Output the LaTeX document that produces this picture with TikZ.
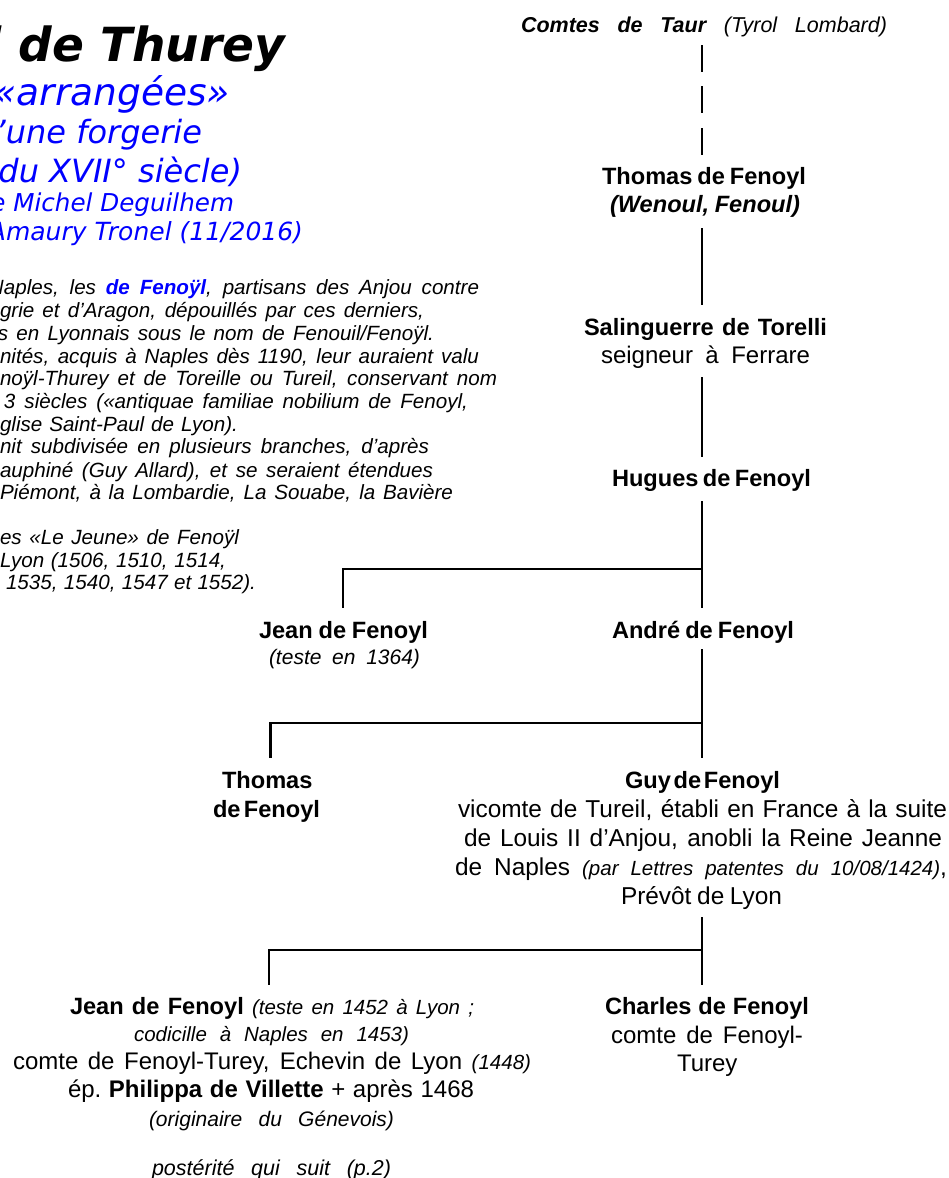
\documentclass[tikz,border=0pt]{standalone}
\usepackage{fontspec}
\setmainfont{Liberation Sans}
\newfontfamily\vdfont{DejaVu Sans}
\definecolor{pureblue}{RGB}{0,0,255}
\hbadness=10000 \hfuzz=1000pt
\tikzset{
  linetext/.style={anchor=base west,inner sep=0pt,outer sep=0pt,text=black},
  titletext/.style={anchor=base east,inner sep=0pt,outer sep=0pt},
  kin/.style={draw=black,line width=2.5pt,line cap=butt,line join=miter},
}
% name, x0, x1, baseline y, font size, text
\newcommand{\ligne}[6]{%
  \node[linetext] (#1) at (#2,#4) {\fontsize{#5}{#5}\selectfont\spaceskip=0.27em plus 1fil minus 1fil\xspaceskip=\spaceskip\hbox to \dimexpr#3pt-(#2pt)\relax{#6}};}
\newcommand{\bl}[1]{\textcolor{pureblue}{\bfseries #1}}
\begin{document}
\begin{tikzpicture}[x=1pt,y=-1pt]
\useasboundingbox (0,0) rectangle (949,1178);
\clip (0,0) rectangle (949,1178);
\fill[white] (0,0) rectangle (949,1178);

% Title block
\node[titletext] (t1) at (285,61) {\vdfont\bfseries\itshape\fontsize{47}{47}\selectfont l de Thurey};
\node[titletext,text=pureblue] (t2) at (230,105) {\vdfont\itshape\fontsize{37.5}{37.5}\selectfont «arrangées»};
\node[titletext,text=pureblue] (t3) at (202,143) {\vdfont\itshape\fontsize{32}{32}\selectfont d’une forgerie};
\node[titletext,text=pureblue] (t4) at (242,182) {\vdfont\itshape\fontsize{32}{32}\selectfont du XVII° siècle)};
\node[titletext,text=pureblue] (t5) at (234,211) {\vdfont\itshape\fontsize{24.6}{24.6}\selectfont de Michel Deguilhem};
\node[titletext,text=pureblue] (t6) at (303,240) {\vdfont\itshape\fontsize{25}{25}\selectfont Amaury Tronel (11/2016)};

% Paragraph
\ligne{p1}{-11}{479}{294}{20.6}{\itshape Naples, les \bl{de Fenoÿl}, partisans des Anjou contre}
\ligne{p2}{0}{424}{317}{20.6}{\itshape grie et d’Aragon, dépouillés par ces derniers,}
\ligne{p3}{-2}{434}{340}{20.6}{\itshape s en Lyonnais sous le nom de Fenouil/Fenoÿl.}
\ligne{p4}{0}{479}{363}{20.6}{\itshape nités, acquis à Naples dès 1190, leur auraient valu}
\ligne{p5}{0}{497}{385}{20.6}{\itshape noÿl-Thurey et de Toreille ou Tureil, conservant nom}
\ligne{p6}{4}{468}{408}{20.6}{\itshape 3 siècles («antiquae familiae nobilium de Fenoyl,}
\ligne{p7}{0}{238}{431}{20.6}{\itshape glise Saint-Paul de Lyon).}
\ligne{p8}{0}{429}{453}{20.6}{\itshape nit subdivisée en plusieurs branches, d’après}
\ligne{p9}{0}{433}{477}{20.6}{\itshape auphiné (Guy Allard), et se seraient étendues}
\ligne{p10}{0}{453}{499}{20.6}{\itshape Piémont, à la Lombardie, La Souabe, la Bavière}
\ligne{p11}{0}{239}{544}{20.6}{\itshape es «Le Jeune» de Fenoÿl}
\ligne{p12}{0}{226}{567}{20.6}{\itshape Lyon (1506, 1510, 1514,}
\ligne{p13}{6}{256}{589}{20.6}{\itshape 1535, 1540, 1547 et 1552).}

% Right column
\ligne{comtes}{521}{887}{32}{21.5}{{\bfseries\itshape Comtes de Taur} {\itshape (Tyrol Lombard)}}
\ligne{thomas}{602}{806}{184}{23.6}{\bfseries Thomas de Fenoyl}
\ligne{wenoul}{610}{800}{212}{23.6}{\bfseries\itshape (Wenoul, Fenoul)}
\ligne{sali}{584}{827}{335}{23.6}{\bfseries Salinguerre de Torelli}
\ligne{seign}{601}{810}{363}{24}{seigneur à Ferrare}
\ligne{hugues}{612}{811}{486}{23.6}{\bfseries Hugues de Fenoyl}
\ligne{jean}{259}{428}{638}{23.6}{\bfseries Jean de Fenoyl}
\ligne{teste}{269}{420}{664}{21}{\itshape (teste en 1364)}
\ligne{andre}{612}{794}{638}{23.6}{\bfseries André de Fenoyl}
\ligne{thomasb}{222}{312}{788}{23.6}{\bfseries Thomas}
\ligne{thomasc}{213}{320}{817}{23.6}{\bfseries de Fenoyl}
\ligne{guy}{625}{780}{788}{23.6}{\bfseries Guy de Fenoyl}
\ligne{guya}{458}{947}{817}{24.4}{vicomte de Tureil, établi en France à la suite}
\ligne{guyb}{464}{942}{846}{24.4}{de Louis II d’Anjou, anobli la Reine Jeanne}
\ligne{guyc}{455}{947}{875}{24.4}{de Naples {\fontsize{20.5}{20.5}\selectfont\itshape (par Lettres patentes du 10/08/1424)},}
\ligne{guyd}{621}{782}{904}{24.4}{Prévôt de Lyon}
\ligne{jeanb}{70}{474}{1014}{23.6}{{\bfseries Jean de Fenoyl} {\fontsize{20.5}{20.5}\selectfont\itshape (teste en 1452 à Lyon ;}}
\ligne{jeanc}{134}{409}{1041}{20.5}{\itshape codicille à Naples en 1453)}
\ligne{jeand}{13}{531}{1069}{24}{comte de Fenoyl-Turey, Echevin de Lyon {\fontsize{20.5}{20.5}\selectfont\itshape (1448)}}
\ligne{jeane}{68}{474}{1097}{24}{ép. {\bfseries Philippa de Villette} + après 1468}
\ligne{jeanf}{149}{394}{1126}{21}{\itshape (originaire du Génevois)}
\ligne{jeang}{152}{391}{1175}{21.5}{\itshape postérité qui suit (p.2)}
\ligne{charles}{605}{809}{1014}{23.6}{\bfseries Charles de Fenoyl}
\ligne{charlesb}{611}{803}{1043}{24}{comte de Fenoyl-}
\ligne{charlesc}{677}{737}{1071}{24}{Turey}

% Connector end points
\coordinate (d1a) at (702,45);  \coordinate (d1b) at (702,72);
\coordinate (d2a) at (702,86);  \coordinate (d2b) at (702,113);
\coordinate (d3a) at (702,128); \coordinate (d3b) at (702,155);
\coordinate (c1a) at (702,228); \coordinate (c1b) at (702,305);
\coordinate (c2a) at (702,377); \coordinate (c2b) at (702,457);
\coordinate (c3a) at (702,501); \coordinate (c3b) at (702,608);
\coordinate (c3j) at (702,569); \coordinate (c3l) at (343,608);
\coordinate (c4a) at (702,649); \coordinate (c4b) at (702,758);
\coordinate (c4j) at (702,723); \coordinate (c4l) at (270.5,758);
\coordinate (c5a) at (702,917); \coordinate (c5b) at (702,985);
\coordinate (c5j) at (702,950); \coordinate (c5l) at (269,985);

% Connectors
\draw[kin] (d1a) -- (d1b);
\draw[kin] (d2a) -- (d2b);
\draw[kin] (d3a) -- (d3b);
\draw[kin] (c1a) -- (c1b);
\draw[kin] (c2a) -- (c2b);
\draw[kin] (c3a) -- (c3b);
\draw[kin] (c3j) -| (c3l);
\draw[kin] (c4a) -- (c4b);
\draw[kin] (c4j) -| (c4l);
\draw[kin] (c5a) -- (c5b);
\draw[kin] (c5j) -| (c5l);
\end{tikzpicture}
\end{document}
